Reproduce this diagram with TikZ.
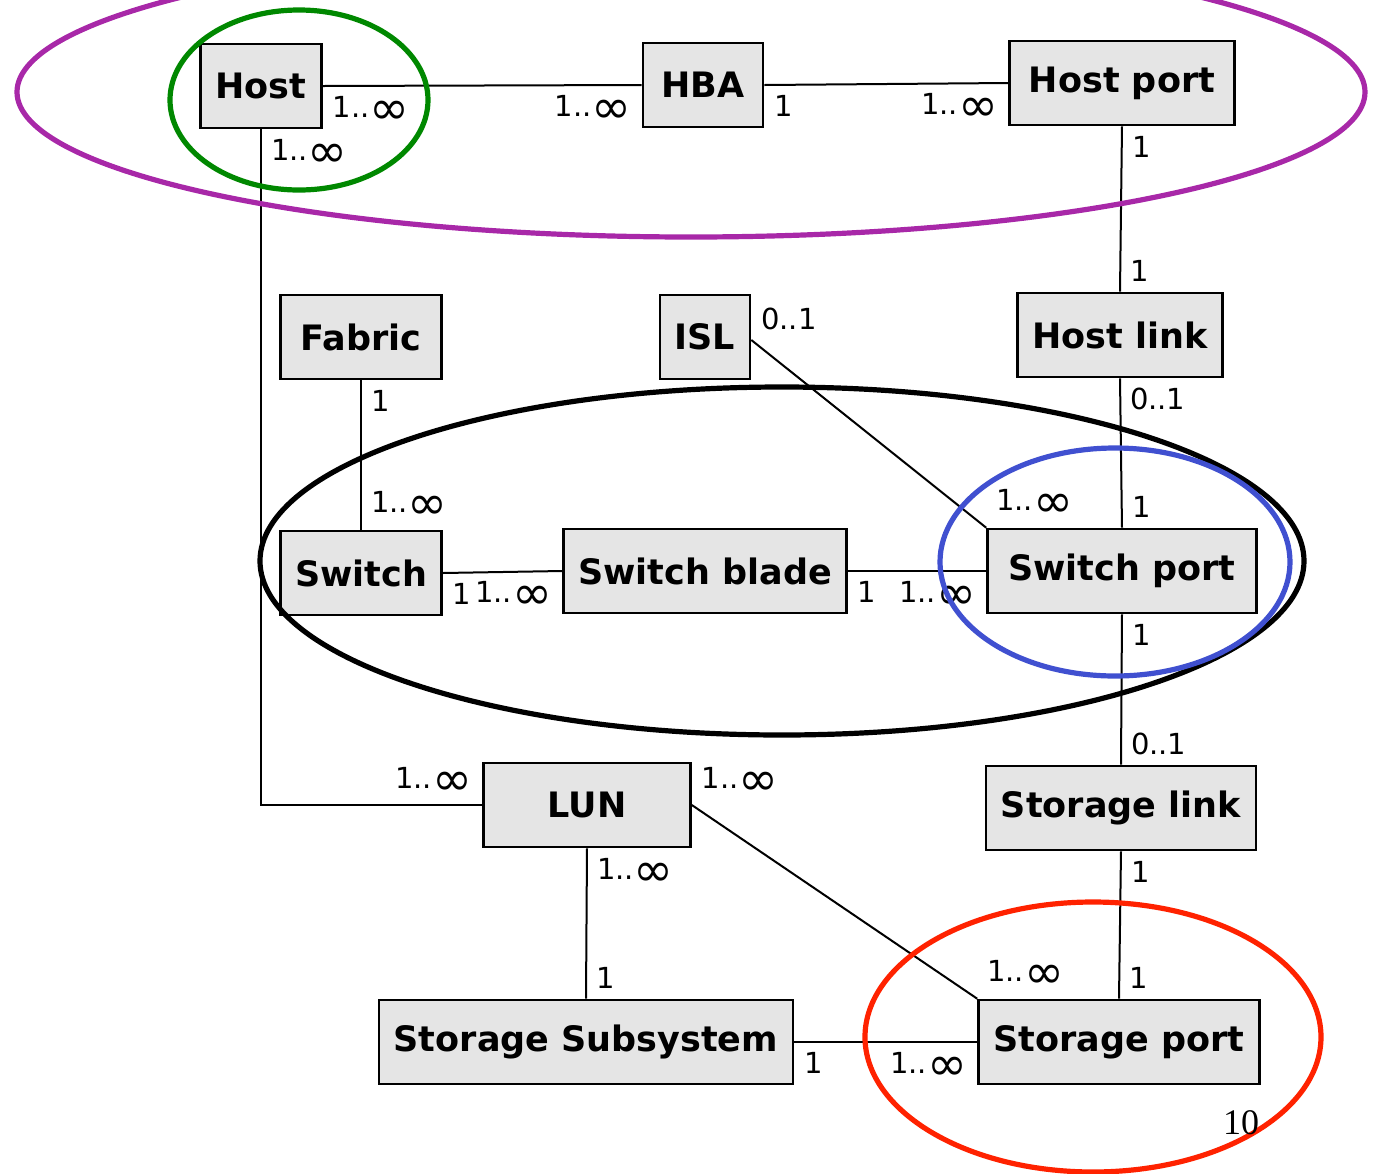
\documentclass[tikz,border=0pt]{standalone}
\usepackage{fontspec}
\setmainfont{DejaVu Sans}
\newfontfamily\pagefont{Liberation Serif}
\usetikzlibrary{positioning}
\definecolor{boxgray}{gray}{0.9}
\definecolor{ringpurple}{RGB}{168,40,168}
\definecolor{ringgreen}{RGB}{0,136,0}
\definecolor{ringblue}{RGB}{64,80,208}
\definecolor{ringred}{RGB}{255,34,0}
\newcommand{\many}{1..\raisebox{-3.5pt}{\fontsize{24}{20}\selectfont ∞}}

\begin{document}
\begin{tikzpicture}[
  x=0.5pt, y=-0.5pt,
  entity/.style={draw, line width=1.3pt, fill=boxgray, minimum height=42pt, inner sep=0pt, font=\bfseries\fontsize{17.5}{20}\selectfont},
  mult/.style={inner sep=4.5pt, font=\fontsize{14.5}{15}\selectfont},
  link/.style={line width=1pt},
  ring/.style={line width=2.6pt},
]
  \useasboundingbox (0,0) rectangle (1373,1174);

  % host side
  \node[entity, minimum width=60.5pt] (host) at (261,86) {Host};
  \node[entity, minimum width=60pt] (hba) at (703,85) {HBA};
  \node[entity, minimum width=112.5pt] (hostport) at (1122,83) {Host port};
  \node[entity, minimum width=102.5pt] (hostlink) at (1120,335) {Host link};

  % fabric
  \node[entity, minimum width=80.5pt] (fabric) at (361,337) {Fabric};
  \node[entity, minimum width=45pt] (isl) at (705,337) {ISL};
  \node[entity, minimum width=80.5pt] (switch) at (361,573) {Switch};
  \node[entity, minimum width=141.5pt] (blade) at (705,571) {Switch blade};
  \node[entity, minimum width=134.5pt] (swport) at (1122,571) {Switch port};

  % storage side
  \node[entity, minimum width=103.5pt] (lun) at (587,805) {LUN};
  \node[entity, minimum width=135pt] (stlink) at (1121,808) {Storage link};
  \node[entity, minimum width=207pt] (subsys) at (586,1042) {Storage Subsystem};
  \node[entity, minimum width=140.5pt] (stport) at (1119,1042) {Storage port};

  \draw[link] (host.east) -- (hba.west)
    node[mult, pos=0, below right] (m1a) {\many} node[mult, pos=1, below left] (m1b) {\many};
  \draw[link] (hba.east) -- (hostport.west)
    node[mult, pos=0, below right] (m2a) {1} node[mult, pos=1, below left] (m2b) {\many};
  \draw[link] (hostport.south) -- (hostlink.north)
    node[mult, pos=0, below right] (m3a) {1} node[mult, pos=1, above right] (m3b) {1};
  \draw[link] (hostlink.south) -- (swport.north)
    node[mult, pos=0, below right] (m4a) {0..1} node[mult, pos=1, above right] (m4b) {1};
  \draw[link] (host.south) |- (lun.west)
    node[mult, pos=0, below right] (m5a) {\many} node[mult, pos=1, above left] (m5b) {\many};
  \draw[link] (fabric.south) -- (switch.north)
    node[mult, pos=0, below right] (m6a) {1} node[mult, pos=1, above right] (m6b) {\many};
  \draw[link] (switch.east) -- (blade.west)
    node[mult, pos=0, below right] (m7a) {1} node[mult, pos=1, below left] (m7b) {\many};
  \draw[link] (blade.east) -- (swport.west)
    node[mult, pos=0, below right] (m8a) {1} node[mult, pos=1, below left] (m8b) {\many};
  \draw[link] ([yshift=-1.5pt]isl.east) -- (swport.north west)
    node[mult, pos=0, above right] (m9a) {0..1} node[mult, pos=1, above right] (m9b) {\many};
  \draw[link] (swport.south) -- (stlink.north)
    node[mult, pos=0, below right] (m10a) {1} node[mult, pos=1, above right] (m10b) {0..1};
  \draw[link] (stlink.south) -- (stport.north)
    node[mult, pos=0, below right] (m11a) {1} node[mult, pos=1, above right] (m11b) {1};
  \draw[link] (lun.east) -- (stport.north west)
    node[mult, pos=0, above right] (m12a) {\many} node[mult, pos=1, above right] (m12b) {\many};
  \draw[link] (lun.south) -- (subsys.north)
    node[mult, pos=0, below right] (m13a) {\many} node[mult, pos=1, above right] (m13b) {1};
  \draw[link] (subsys.east) -- (stport.west)
    node[mult, pos=0, below right] (m14a) {1} node[mult, pos=1, below left] (m14b) {\many};

  % highlight rings
  \draw[ring, ringpurple] (691,92) ellipse [x radius=674, y radius=145];
  \draw[ring, ringgreen] (299,100) ellipse [x radius=129, y radius=90];
  \draw[ring, black] (782,561) ellipse [x radius=522, y radius=174];
  \draw[ring, ringblue] (1115,562) ellipse [x radius=175, y radius=114];
  \draw[ring, ringred] (1093,1037) ellipse [x radius=228, y radius=135];

  \node[font=\pagefont\fontsize{18}{18}\selectfont, inner sep=0pt] (pagenum) at (1241,1123) {10};
\end{tikzpicture}
\end{document}
